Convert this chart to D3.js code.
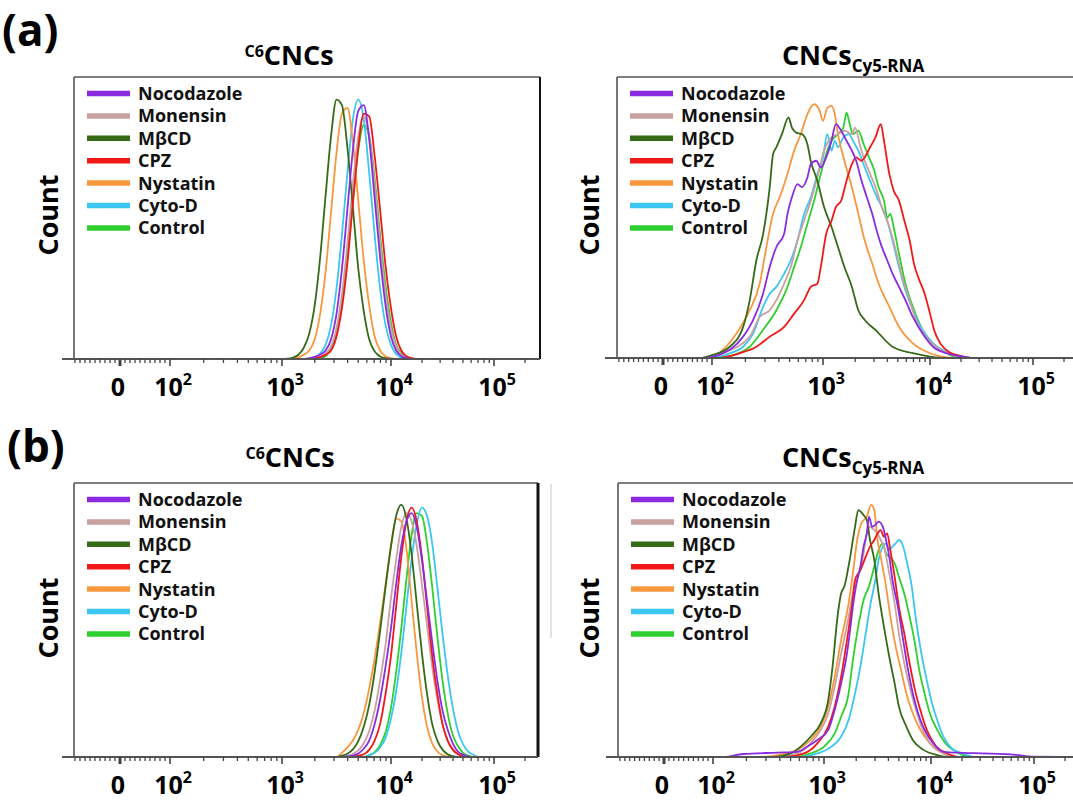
<!DOCTYPE html>
<html>
<head>
<meta charset="utf-8">
<script src="https://cdn.jsdelivr.net/npm/d3@7"></script>
<style>
body { margin: 0; background: #fff; }
svg { display: block; font-family: "Open Sans", "DejaVu Sans", sans-serif; font-weight: 700; }
</style>
</head>
<body>
<svg id="chart" width="1073" height="800"></svg>
<script>
// legend order
const seriesNames = ["Nocodazole", "Monensin", "MβCD", "CPZ", "Nystatin", "Cyto-D", "Control"];
const seriesColors = ["#8a2be2", "#c9a1a1", "#356b17", "#f21818", "#f8973d", "#3cc6f2", "#2fcf2f"];
// which curve is painted first (purple last, so it sits on the baseline)
const drawOrder = [6, 5, 4, 1, 2, 3, 0];
const decadeExponents = [2, 3, 4, 5];
const zeroLabel = "0";

// x values are log10(intensity), counts are % of the plot height

// (a) C6CNCs - shared grid
const aLeftGrid = [3.00, 3.05, 3.10, 3.15, 3.20, 3.25, 3.30, 3.35, 3.40, 3.45, 3.50, 3.55, 3.60,
  3.65, 3.70, 3.75, 3.80, 3.85, 3.90, 3.95, 4.00, 4.05, 4.10, 4.15, 4.20, 4.25];
const aLeftCounts = [
  [0, 0, 0, 0, 0, 0.3, 0.8, 1.5, 3, 7, 16, 32, 53, 74, 88, 90, 78, 57, 36, 19, 8, 3, 1, 0.3, 0, 0],
  [0, 0, 0, 0, 0, 0, 0.3, 0.8, 2, 4.5, 11, 23, 41, 62, 79, 86, 79, 62, 41, 23, 11, 4.5, 1.5, 0.5, 0, 0],
  [0, 0.1, 0.5, 1.5, 4, 9, 19, 36, 58, 79, 92, 90, 75, 54, 32, 17, 7, 2.7, 0.9, 0.3, 0, 0, 0, 0, 0, 0],
  [0, 0, 0, 0, 0, 0, 0.3, 0.7, 1.5, 3, 8, 18, 34, 55, 75, 87, 86, 72, 53, 33, 18, 8, 3, 1, 0.3, 0],
  [0, 0, 0.2, 0.6, 1.5, 3, 7, 16, 31, 52, 73, 87, 89, 77, 56, 35, 19, 8, 3, 1, 0.3, 0, 0, 0, 0, 0],
  [0, 0, 0, 0, 0, 0.2, 0.5, 2, 5, 12, 25, 44, 66, 85, 92, 85, 66, 44, 25, 12, 5, 1.7, 0.5, 0, 0, 0],
  [0, 0, 0, 0, 0, 0, 0, 0.3, 1, 4, 9, 20, 36, 56, 74, 83, 79, 64, 44, 26, 13, 5, 2, 0.5, 0, 0]
];

// (b) C6CNCs - shared grid
const bLeftGrid = [3.50, 3.55, 3.60, 3.65, 3.70, 3.75, 3.80, 3.85, 3.90, 3.95, 4.00, 4.05, 4.10, 4.15,
  4.20, 4.25, 4.30, 4.35, 4.40, 4.45, 4.50, 4.55, 4.60, 4.65, 4.70, 4.75, 4.80, 4.85];
const bLeftCounts = [
  [0, 0, 0.2, 0.5, 1.3, 3, 6, 12, 21, 33, 47, 63, 77, 86, 89, 84, 72, 57, 42, 28, 17, 10, 5, 2, 0.8, 0.2, 0, 0],
  [0, 0.2, 0.4, 1.1, 2.4, 5, 9.5, 17, 28, 41, 58, 72, 84, 89, 86, 77, 63, 48, 33, 21, 12, 6, 3, 1.2, 0.4, 0, 0, 0],
  [0, 0.5, 1.2, 2.8, 5.8, 11, 19, 31, 46, 62, 77, 88, 92, 87, 74, 56, 38, 23, 12, 6, 2.7, 1, 0.3, 0, 0, 0, 0, 0],
  [0, 0, 0, 0.2, 0.5, 1, 2.6, 6, 12, 23, 37, 55, 73, 86, 91, 86, 73, 55, 37, 23, 12, 6, 2.6, 1, 0.3, 0, 0, 0],
  [0, 1.5, 3.5, 6, 10, 16, 25, 36, 49, 63, 77, 87, 86, 76, 57, 38, 22, 11, 5, 2, 0.7, 0.2, 0, 0, 0, 0, 0, 0],
  [0, 0, 0, 0, 0, 0, 0.6, 1.5, 3.5, 7, 14, 24, 38, 55, 72, 85, 91, 88, 78, 62, 45, 30, 18, 9.5, 4.6, 2, 0.8, 0],
  [0, 0, 0, 0, 0, 0, 0.7, 1.8, 4.3, 9, 18, 31, 47, 65, 81, 89, 88, 78, 62, 44, 28, 16, 8, 4, 1.5, 0.5, 0, 0]
];

// (a) CNCs Cy5-RNA - [log10, %] per curve
const aRightNocodazole = [[1.92, 0], [2.06, 1], [2.28, 7.6], [2.37, 13.5], [2.46, 22.9], [2.52, 32.4], [2.58, 39.5],
  [2.65, 44.2], [2.68, 51.3], [2.72, 57.2], [2.77, 61.9], [2.81, 60.8], [2.86, 64.3], [2.89, 69], [2.94, 70.2],
  [2.98, 67.8], [3.03, 71.4], [3.08, 77.3], [3.12, 83.2], [3.17, 80.9], [3.22, 77.3], [3.27, 73.8], [3.31, 70.2],
  [3.36, 63.1], [3.41, 57.2], [3.46, 51.3], [3.51, 44.2], [3.55, 39.5], [3.60, 34.8], [3.65, 30], [3.71, 25.3],
  [3.77, 20.6], [3.84, 14.6], [3.93, 8.7], [4.03, 4], [4.16, 1.7], [4.32, 0.5], [4.45, 0]];
const aRightMonensin = [[1.95, 0], [2.09, 1.7], [2.34, 7.6], [2.43, 14.6], [2.52, 17], [2.58, 20.6], [2.65, 26.5],
  [2.71, 32.4], [2.77, 41.8], [2.83, 48.9], [2.89, 56], [2.95, 64.3], [3.01, 73.8], [3.08, 78.5], [3.14, 79.7],
  [3.20, 80.9], [3.27, 79.7], [3.30, 82], [3.35, 75], [3.39, 70.2], [3.44, 65.5], [3.49, 60.8], [3.55, 53.7],
  [3.62, 46.6], [3.68, 38.3], [3.74, 28.8], [3.81, 20.6], [3.87, 13.5], [3.96, 7.6], [4.06, 4], [4.22, 1], [4.35, 0]];
const aRightMbcd = [[1.88, 0], [2.00, 1], [2.16, 4], [2.28, 11], [2.34, 20.6], [2.40, 34.8], [2.46, 44], [2.52, 60.8],
  [2.55, 72.5], [2.58, 75], [2.63, 79.7], [2.69, 85.6], [2.72, 82], [2.77, 80], [2.81, 79.7], [2.86, 76], [2.89, 70],
  [2.95, 63], [3.01, 53.7], [3.08, 46.6], [3.14, 39.5], [3.20, 32.4], [3.27, 25.3], [3.33, 17], [3.39, 13.5],
  [3.49, 10], [3.65, 4], [3.84, 1.7], [4.00, 0.5], [4.12, 0]];
const aRightCpz = [[2.05, 0], [2.25, 1.7], [2.40, 4], [2.52, 7.6], [2.65, 11.1], [2.74, 15.8], [2.83, 20.6],
  [2.89, 25.3], [2.95, 26.5], [2.98, 32.4], [3.03, 44.2], [3.08, 48.9], [3.12, 53.7], [3.17, 56], [3.22, 63.1],
  [3.27, 69], [3.31, 71.4], [3.36, 70.2], [3.39, 71.4], [3.44, 75], [3.49, 78.5], [3.54, 83.2], [3.57, 77.3],
  [3.62, 65.5], [3.66, 59.6], [3.71, 56], [3.76, 48.9], [3.81, 41.8], [3.85, 33.6], [3.90, 27.7], [3.95, 22.9],
  [4.00, 15.8], [4.04, 10], [4.10, 5.2], [4.18, 2.2], [4.30, 0.7], [4.42, 0]];
const aRightNystatin = [[1.90, 0], [2.03, 1], [2.22, 8.7], [2.34, 17], [2.43, 26.5], [2.49, 39.5], [2.55, 51.3],
  [2.61, 57.2], [2.68, 65.5], [2.74, 73.8], [2.80, 79.7], [2.86, 86.8], [2.92, 90.3], [2.97, 88], [3.00, 84.4],
  [3.04, 89], [3.08, 89.7], [3.11, 86.8], [3.14, 79.7], [3.20, 70.2], [3.27, 60.8], [3.33, 51.3], [3.39, 41.8],
  [3.46, 33.6], [3.52, 26.5], [3.62, 18.2], [3.71, 11.1], [3.84, 5.2], [4.00, 1.7], [4.16, 0.2], [4.25, 0]];
const aRightCytoD = [[2.00, 0], [2.16, 1.7], [2.28, 4], [2.37, 8.7], [2.46, 18.2], [2.52, 22.9], [2.58, 25.3],
  [2.65, 30], [2.71, 34.8], [2.77, 41.8], [2.83, 51.3], [2.89, 57.2], [2.95, 65.5], [3.00, 71.4], [3.04, 79.7],
  [3.08, 73.8], [3.11, 77.3], [3.14, 75], [3.19, 78.5], [3.24, 79.7], [3.28, 77.3], [3.33, 73.8], [3.39, 67.8],
  [3.44, 63.1], [3.49, 58.4], [3.55, 53.7], [3.60, 48.9], [3.65, 41.8], [3.71, 32.4], [3.77, 24.1], [3.84, 17],
  [3.93, 10], [4.03, 5.2], [4.16, 2.2], [4.29, 0.7], [4.40, 0]];
const aRightControl = [[2.02, 0], [2.19, 1], [2.34, 4], [2.46, 10], [2.58, 17], [2.68, 25.3], [2.74, 32.4],
  [2.80, 39.5], [2.86, 47.8], [2.92, 56], [2.98, 65.5], [3.03, 72.6], [3.08, 77.3], [3.14, 79.7], [3.19, 82],
  [3.22, 87.3], [3.25, 83.2], [3.28, 79.7], [3.33, 80.9], [3.38, 76.1], [3.43, 71.4], [3.47, 67.8], [3.52, 60.8],
  [3.57, 56], [3.60, 50], [3.63, 51.3], [3.66, 46.6], [3.71, 37.1], [3.77, 26.5], [3.84, 18.2], [3.93, 10],
  [4.03, 5.2], [4.16, 1.7], [4.30, 0]];

// (b) CNCs Cy5-RNA - [log10, %] per curve
const bRightNocodazole = [[2.10, 0], [2.27, 1.1], [2.58, 1.6], [2.76, 1.9], [2.85, 3.8], [2.94, 6.2], [3.04, 9.9],
  [3.10, 17.2], [3.16, 26.9], [3.21, 36.6], [3.24, 45.1], [3.27, 54.9], [3.31, 64.6], [3.34, 69.5], [3.37, 76.8],
  [3.40, 81.6], [3.42, 87.7], [3.45, 84], [3.48, 84.7], [3.51, 85.9], [3.55, 84], [3.58, 79.2], [3.61, 73.1],
  [3.64, 64.6], [3.69, 54.9], [3.74, 42.7], [3.78, 33], [3.83, 23.2], [3.88, 15.9], [3.94, 9.9], [4.02, 5],
  [4.12, 1.9], [4.32, 1.5], [4.49, 1.3], [4.82, 0.8], [4.98, 0.1]];
const bRightMonensin = [[2.60, 0], [2.76, 1.3], [2.88, 5], [2.97, 9.9], [3.04, 15.9], [3.10, 25.7], [3.16, 37.8],
  [3.23, 51.2], [3.27, 59.7], [3.32, 65.8], [3.37, 74.3], [3.40, 81.6], [3.43, 84], [3.47, 82.8], [3.50, 81.6],
  [3.53, 79.2], [3.56, 76.8], [3.61, 67], [3.66, 56.1], [3.70, 45.1], [3.75, 34.2], [3.80, 25.7], [3.85, 18.4],
  [3.91, 11.1], [3.99, 5], [4.09, 1.9], [4.22, 0]];
const bRightMbcd = [[2.55, 0], [2.70, 1.3], [2.79, 3.8], [2.88, 7.4], [2.97, 12.3], [3.04, 20.8], [3.08, 33],
  [3.13, 52.4], [3.16, 59.7], [3.19, 62.2], [3.24, 71.9], [3.29, 84], [3.32, 90.1], [3.37, 88.3], [3.40, 86.5],
  [3.43, 79.2], [3.47, 71.9], [3.51, 59.7], [3.56, 47.6], [3.61, 36.6], [3.66, 26.9], [3.70, 18.4], [3.77, 11.1],
  [3.83, 6.2], [3.93, 2.6], [4.06, 0.7], [4.18, 0]];
const bRightCpz = [[2.65, 0], [2.82, 1.3], [2.94, 5], [3.04, 11.1], [3.10, 18.4], [3.16, 29.3], [3.21, 41.5],
  [3.26, 54.9], [3.29, 64.6], [3.34, 68.2], [3.39, 73.1], [3.43, 76.8], [3.47, 79.2], [3.50, 81.6], [3.53, 82.8],
  [3.56, 80.4], [3.59, 81.6], [3.62, 75.5], [3.66, 65.8], [3.70, 54.9], [3.75, 45.1], [3.80, 34.2], [3.85, 24.5],
  [3.90, 17.2], [3.96, 9.9], [4.04, 4.4], [4.16, 1.3], [4.28, 0]];
const bRightNystatin = [[2.40, 0], [2.58, 0.7], [2.76, 2.6], [2.88, 6.2], [2.97, 11.1], [3.04, 18.4], [3.10, 29.3],
  [3.16, 42.7], [3.23, 56.1], [3.27, 67], [3.31, 79.2], [3.35, 85.3], [3.40, 87.7], [3.44, 92], [3.47, 90.1],
  [3.50, 79.2], [3.53, 73.1], [3.58, 62.2], [3.62, 51.2], [3.67, 40.3], [3.72, 31.8], [3.77, 23.2], [3.83, 15.9],
  [3.90, 9.9], [3.99, 5], [4.12, 1.3], [4.25, 0]];
const bRightCytoD = [[2.78, 0], [2.94, 1.3], [3.07, 3.8], [3.16, 7.4], [3.23, 13.5], [3.29, 23.2], [3.34, 33],
  [3.39, 45.1], [3.43, 54.9], [3.48, 64.6], [3.51, 71.9], [3.55, 76.8], [3.58, 78], [3.61, 75.5], [3.64, 76.8],
  [3.67, 78], [3.70, 79.2], [3.74, 76.8], [3.77, 71.9], [3.82, 62.2], [3.86, 50], [3.91, 37.8], [3.96, 28.1],
  [4.01, 19.6], [4.06, 13.5], [4.12, 7.4], [4.20, 3.2], [4.32, 1.1], [4.45, 0]];
const bRightControl = [[2.72, 0], [2.88, 1.3], [3.00, 3.8], [3.10, 8.6], [3.16, 14.7], [3.23, 23.2], [3.27, 35.4],
  [3.32, 47.6], [3.37, 57.3], [3.42, 62.2], [3.47, 69.5], [3.51, 75.5], [3.55, 78], [3.58, 74.3], [3.61, 73.1],
  [3.66, 70.7], [3.70, 65.8], [3.75, 59.7], [3.80, 51.2], [3.85, 41.5], [3.89, 31.8], [3.94, 23.2], [3.99, 15.9],
  [4.06, 9.9], [4.14, 5], [4.26, 1.6], [4.38, 0]];

const W = 1073;
const svg = d3.select("#chart");

function gridPoints(grid, counts) {
  return counts.map(row => grid.map((u, j) => [u, row[j]]));
}

function drawPanel(p) {
  const g = svg.append("g");
  const right = Math.min(p.left + p.width, W);

  // display axis: 1.5 = zero, 2..5 = decades (log10)
  const x = d3.scaleLinear()
    .domain([1.5, 2, 3, 4, 5])
    .range(p.stops.map(d => p.left + d));
  const y = d3.scaleLinear().domain([0, 100]).range([p.base, p.top]);
  const uMin = x.invert(p.left + 1);
  const uMax = x.invert(right);

  // frame
  g.append("line")
    .attr("x1", p.left).attr("x2", right).attr("y1", p.top).attr("y2", p.top)
    .attr("stroke", "#555").attr("stroke-width", 1.6);
  g.append("line")
    .attr("x1", p.left).attr("x2", p.left).attr("y1", p.top).attr("y2", p.base)
    .attr("stroke", "#555").attr("stroke-width", 1.6);
  if (p.left + p.width < W) {
    g.append("line")
      .attr("x1", p.left + p.width).attr("x2", p.left + p.width).attr("y1", p.top).attr("y2", p.base)
      .attr("stroke", "#111").attr("stroke-width", p.rightStroke);
  }

  // curves
  const line = d3.line()
    .x(d => x(d[0]))
    .y(d => y(d[1]))
    .curve(d3.curveMonotoneX);
  drawOrder.forEach(i => {
    const pts = [[uMin, 0]].concat(p.points[i], [[uMax, 0]]);
    g.append("path")
      .datum(pts)
      .attr("d", line)
      .attr("fill", "none")
      .attr("stroke", seriesColors[i])
      .attr("stroke-width", 1.8)
      .attr("stroke-linejoin", "round");
  });

  // x axis line
  g.append("line")
    .attr("x1", p.left - 12).attr("x2", right).attr("y1", p.base).attr("y2", p.base)
    .attr("stroke", "#555").attr("stroke-width", 2);

  // ticks
  const ticks = [];
  for (let v = -90; v <= 90; v += 10) {
    if (v !== 0) ticks.push({ u: 1.5 + v / 200, len: 4, w: 1.3 });
  }
  ticks.push({ u: 1.5, len: 7, w: 3 });
  decadeExponents.forEach(k => {
    ticks.push({ u: k, len: 7, w: 1.6 });
    for (let m = 2; m <= 9; m++) {
      const u = k + Math.log10(m);
      if (x(u) < right - 2) ticks.push({ u: u, len: 4, w: 1.3 });
    }
  });
  g.selectAll(".tick")
    .data(ticks)
    .enter()
    .append("line")
    .attr("x1", d => x(d.u)).attr("x2", d => x(d.u))
    .attr("y1", p.base).attr("y2", d => p.base + d.len)
    .attr("stroke", "#444")
    .attr("stroke-width", d => d.w);

  // tick labels
  const ly = p.base + 37;
  g.append("text")
    .attr("x", x(1.5) - 2).attr("y", ly)
    .attr("text-anchor", "middle")
    .attr("font-size", 25)
    .text(zeroLabel);
  decadeExponents.forEach(k => {
    const t = g.append("text")
      .attr("x", x(k) + 3).attr("y", ly)
      .attr("text-anchor", "middle")
      .attr("font-size", 25);
    t.append("tspan").text("10");
    t.append("tspan").attr("font-size", 16).attr("dy", -11).text(k);
  });

  // y label
  g.append("text")
    .attr("transform", `translate(${p.left - p.yLabelGap},${p.yLabelY}) rotate(-90)`)
    .attr("text-anchor", "middle")
    .attr("font-size", 27)
    .text("Count");

  // title
  const tt = g.append("text")
    .attr("x", p.titleX).attr("y", p.titleY)
    .attr("text-anchor", "middle")
    .attr("fill", "#000");
  if (p.cy5) {
    tt.append("tspan").attr("font-size", 27).text("CNCs");
    tt.append("tspan").attr("font-size", 17).attr("dy", 7).text("Cy5-RNA");
  } else {
    tt.append("tspan").attr("font-size", 16).attr("dy", -8).text("C6");
    tt.append("tspan").attr("font-size", 27).attr("dy", 8).text("CNCs");
  }

  // legend
  const leg = g.selectAll(".leg")
    .data(seriesNames)
    .enter()
    .append("g")
    .attr("transform", (d, i) => `translate(${p.left},${p.top + 16.5 + i * 22.4})`);
  leg.append("line")
    .attr("x1", 13).attr("x2", 56)
    .attr("stroke", (d, i) => seriesColors[i])
    .attr("stroke-width", 5.5);
  leg.append("text")
    .attr("x", 64).attr("y", 6.5)
    .attr("font-size", 18)
    .attr("fill", "#111")
    .text(d => d);
}

const leftStops = [46, 96, 208, 317, 420];
const rightStops = [46, 95, 206, 313, 416];

drawPanel({ left: 74, top: 77, base: 359, width: 466, stops: leftStops, rightStroke: 2,
  points: gridPoints(aLeftGrid, aLeftCounts), titleX: 289, titleY: 65, yLabelY: 215, yLabelGap: 16 });
drawPanel({ left: 617, top: 77, base: 358, width: 466, stops: rightStops, cy5: true,
  points: [aRightNocodazole, aRightMonensin, aRightMbcd, aRightCpz, aRightNystatin, aRightCytoD, aRightControl],
  titleX: 853, titleY: 65, yLabelY: 215, yLabelGap: 18 });
drawPanel({ left: 74, top: 483, base: 757, width: 464, stops: leftStops, rightStroke: 3,
  points: gridPoints(bLeftGrid, bLeftCounts), titleX: 290, titleY: 467, yLabelY: 618, yLabelGap: 16 });
drawPanel({ left: 618, top: 483, base: 757, width: 466, stops: rightStops, cy5: true,
  points: [bRightNocodazole, bRightMonensin, bRightMbcd, bRightCpz, bRightNystatin, bRightCytoD, bRightControl],
  titleX: 853, titleY: 467, yLabelY: 618, yLabelGap: 19 });

// faint edge left over from the figure crop
svg.append("line")
  .attr("x1", 551).attr("x2", 551).attr("y1", 484).attr("y2", 638)
  .attr("stroke", "#c8c8c8").attr("stroke-width", 1);

// panel letters
svg.append("text").attr("x", 2).attr("y", 46).attr("font-size", 44).text("(a)");
svg.append("text").attr("x", 7).attr("y", 462).attr("font-size", 44).text("(b)");
</script>
</body>
</html>
